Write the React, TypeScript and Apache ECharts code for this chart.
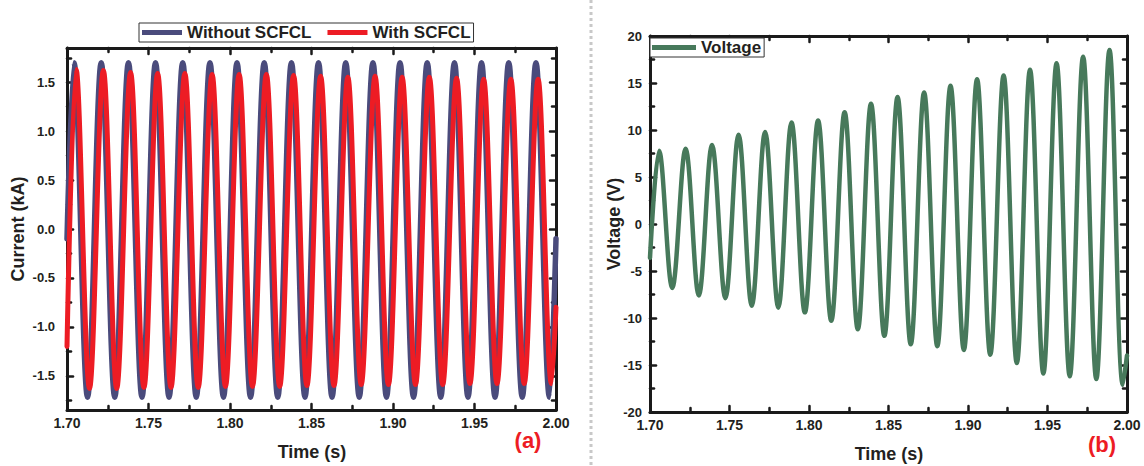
import React, { useEffect, useRef } from "react";
import * as echarts from "echarts";

// ---------- Data ----------
const xTickLabels = ["1.70", "1.75", "1.80", "1.85", "1.90", "1.95", "2.00"];
const currentTickValues = [-1.5, -1.0, -0.5, 0.0, 0.5, 1.0, 1.5];
const currentMinorTicks = [-1.75, -1.25, -0.75, -0.25, 0.25, 0.75, 1.25, 1.75];

// Without SCFCL (blue)
const withoutStart = [1.7, -0.1];
const withoutPeakT = [1.7043, 1.721, 1.7377, 1.7543, 1.771, 1.7877, 1.8043, 1.821, 1.8377, 1.8543, 1.871, 1.8877, 1.9043, 1.921, 1.9377, 1.9543, 1.971, 1.9877];
const withoutPeakV = [1.7, 1.7, 1.7, 1.7, 1.7, 1.7, 1.7, 1.7, 1.7, 1.7, 1.7, 1.7, 1.7, 1.7, 1.7, 1.7, 1.7, 1.7];
const withoutTroughT = [1.7126, 1.7293, 1.746, 1.7626, 1.7793, 1.796, 1.8126, 1.8293, 1.846, 1.8626, 1.8793, 1.896, 1.9126, 1.9293, 1.946, 1.9626, 1.9793, 1.996];
const withoutTroughV = [-1.72, -1.72, -1.72, -1.72, -1.72, -1.72, -1.72, -1.72, -1.72, -1.72, -1.72, -1.72, -1.72, -1.72, -1.72, -1.72, -1.72, -1.72];
const withoutEnd = [2.0, -0.1];

// With SCFCL (red)
const withStart = [1.7, -1.2];
const withPeakT = [1.7056, 1.7223, 1.739, 1.7556, 1.7723, 1.789, 1.8056, 1.8223, 1.839, 1.8556, 1.8723, 1.889, 1.9056, 1.9223, 1.939, 1.9556, 1.9723, 1.989];
const withPeakV = [1.63, 1.62, 1.6, 1.59, 1.59, 1.58, 1.58, 1.58, 1.57, 1.56, 1.55, 1.56, 1.55, 1.55, 1.54, 1.53, 1.53, 1.53];
const withTroughT = [1.7138, 1.7305, 1.7472, 1.7638, 1.7805, 1.7972, 1.8138, 1.8305, 1.8472, 1.8638, 1.8805, 1.8972, 1.9138, 1.9305, 1.9472, 1.9638, 1.9805, 1.9972];
const withTroughV = [-1.63, -1.63, -1.62, -1.62, -1.62, -1.61, -1.61, -1.61, -1.6, -1.6, -1.59, -1.59, -1.59, -1.59, -1.58, -1.58, -1.58, -1.58];
const withEnd = [2.0, -0.8];

// Voltage (green)
const voltStart = [1.7, -3.6];
const voltPeakT = [1.7057, 1.7224, 1.739, 1.7557, 1.7724, 1.789, 1.8057, 1.8224, 1.839, 1.8557, 1.8724, 1.889, 1.9057, 1.9224, 1.939, 1.9557, 1.9724, 1.989];
const voltPeakV = [7.8, 8.0, 8.4, 9.5, 9.8, 10.8, 11.0, 11.9, 12.8, 13.5, 14.0, 14.7, 15.4, 15.8, 16.4, 17.1, 17.8, 18.5];
const voltTroughT = [1.714, 1.7307, 1.7474, 1.764, 1.7807, 1.7974, 1.814, 1.8307, 1.8474, 1.864, 1.8807, 1.8974, 1.914, 1.9307, 1.9474, 1.964, 1.9807, 1.9974];
const voltTroughV = [-6.8, -7.6, -7.9, -8.7, -8.9, -9.4, -10.3, -11.2, -11.9, -12.8, -13.0, -13.4, -13.9, -14.8, -15.9, -16.2, -16.5, -17.1];
const voltEnd = [2.0, -14.0];

// ---------- helpers ----------
function wave(start: number[], pT: number[], pV: number[], tT: number[], tV: number[], end: number[]) {
  const out: number[][] = [start];
  for (let i = 0; i < pT.length; i++) {
    out.push([pT[i], pV[i]]);
    out.push([tT[i], tV[i]]);
  }
  out.push(end);
  return out;
}

const FONT = "'Liberation Sans', Arial, sans-serif";
const INK = "#231F20";
const AXIS = "#1A1A1A";

function xAxes(grid: number) {
  const common = {
    type: "value",
    gridIndex: grid,
    min: 1.7,
    max: 2.0,
    interval: 0.05,
    splitLine: { show: false },
    axisLine: { show: true, onZero: false, lineStyle: { color: AXIS, width: 3 } },
    axisTick: { show: true, inside: true, length: 6, lineStyle: { color: AXIS, width: 2.5, cap: "round" } },
    minorTick: { show: true, splitNumber: 2, length: 4, lineStyle: { color: AXIS, width: 2.5, cap: "round" } },
  };
  return [
    {
      ...common,
      position: "bottom",
      axisLabel: {
        show: true,
        margin: 6,
        fontFamily: FONT,
        fontWeight: "bold",
        fontSize: 14,
        color: INK,
        formatter: (v: number) => {
          const idx = Math.round((v - 1.7) / 0.05);
          return xTickLabels[idx] ?? "";
        },
      },
    },
    { ...common, position: "top", axisLabel: { show: false } },
  ];
}

function App() {
  const ref = useRef<HTMLDivElement>(null);
  useEffect(() => {
    if (!ref.current) return;
    const chart = echarts.init(ref.current, null, { renderer: "svg" });

    const yTickStyle = { color: AXIS, width: 2.5, cap: "round" };
    const yLeftCommon = {
      type: "value",
      gridIndex: 0,
      min: -1.85,
      max: 1.85,
      splitLine: { show: false },
    };

    const option: any = {
      animation: false,
      backgroundColor: "#ffffff",
      grid: [
        { left: 67, right: 588, top: 48, bottom: 56 },
        { left: 650, right: 17, top: 36, bottom: 54 },
      ],
      xAxis: [...xAxes(0), ...xAxes(1)],
      yAxis: [
        {
          ...yLeftCommon,
          position: "left",
          axisLine: { show: true, onZero: false, lineStyle: { color: AXIS, width: 3 } },
          axisTick: { show: true, inside: true, length: 6, customValues: currentTickValues, lineStyle: yTickStyle },
          axisLabel: {
            show: true,
            margin: 12,
            customValues: currentTickValues,
            fontFamily: FONT,
            fontWeight: "bold",
            fontSize: 13,
            color: INK,
            formatter: (v: number) => v.toFixed(1),
          },
        },
        {
          ...yLeftCommon,
          position: "right",
          axisLine: { show: true, onZero: false, lineStyle: { color: AXIS, width: 3 } },
          axisTick: { show: true, inside: true, length: 6, customValues: currentTickValues, lineStyle: yTickStyle },
          axisLabel: { show: false },
        },
        {
          ...yLeftCommon,
          position: "left",
          axisLine: { show: false },
          axisTick: { show: true, inside: true, length: 4, customValues: currentMinorTicks, lineStyle: yTickStyle },
          axisLabel: { show: false },
        },
        {
          ...yLeftCommon,
          position: "right",
          axisLine: { show: false },
          axisTick: { show: true, inside: true, length: 4, customValues: currentMinorTicks, lineStyle: yTickStyle },
          axisLabel: { show: false },
        },
        {
          type: "value",
          gridIndex: 1,
          position: "left",
          min: -20,
          max: 20,
          interval: 5,
          splitLine: { show: false },
          axisLine: { show: true, onZero: false, lineStyle: { color: AXIS, width: 3 } },
          axisTick: { show: true, inside: true, length: 6, lineStyle: yTickStyle },
          minorTick: { show: true, splitNumber: 2, length: 4, lineStyle: yTickStyle },
          axisLabel: { show: true, margin: 8, fontFamily: FONT, fontWeight: "bold", fontSize: 13, color: INK },
        },
        {
          type: "value",
          gridIndex: 1,
          position: "right",
          min: -20,
          max: 20,
          interval: 5,
          splitLine: { show: false },
          axisLine: { show: true, onZero: false, lineStyle: { color: AXIS, width: 3 } },
          axisTick: { show: true, inside: true, length: 6, lineStyle: yTickStyle },
          minorTick: { show: true, splitNumber: 2, length: 4, lineStyle: yTickStyle },
          axisLabel: { show: false },
        },
      ],
      legend: [
        {
          data: ["Without SCFCL", "With SCFCL"],
          left: 139,
          top: 23,
          orient: "horizontal",
          icon: "rect",
          itemWidth: 40,
          itemHeight: 5,
          itemGap: 16,
          padding: [1, 3, 1, 3],
          borderColor: "#333",
          borderWidth: 1,
          borderRadius: 0,
          backgroundColor: "#fff",
          textStyle: { fontFamily: FONT, fontWeight: "bold", fontSize: 17, color: INK },
        },
        {
          data: ["Voltage"],
          left: 650,
          top: 38,
          icon: "rect",
          itemWidth: 44,
          itemHeight: 5,
          padding: [1, 3, 1, 2],
          borderColor: "#333",
          borderWidth: 1,
          borderRadius: 0,
          backgroundColor: "#fff",
          textStyle: { fontFamily: FONT, fontWeight: "bold", fontSize: 17, color: INK },
        },
      ],
      series: [
        {
          name: "Without SCFCL",
          type: "line",
          xAxisIndex: 0,
          yAxisIndex: 0,
          data: wave(withoutStart, withoutPeakT, withoutPeakV, withoutTroughT, withoutTroughV, withoutEnd),
          smooth: 0.36,
          showSymbol: false,
          symbol: "none",
          color: "#4A4B7C",
          lineStyle: { width: 5.5, color: "#4A4B7C", cap: "round", join: "round" },
        },
        {
          name: "With SCFCL",
          type: "line",
          xAxisIndex: 0,
          yAxisIndex: 0,
          data: wave(withStart, withPeakT, withPeakV, withTroughT, withTroughV, withEnd),
          smooth: 0.36,
          showSymbol: false,
          symbol: "none",
          color: "#ED1C24",
          lineStyle: { width: 5, color: "#ED1C24", cap: "round", join: "round" },
        },
        {
          name: "Voltage",
          type: "line",
          xAxisIndex: 2,
          yAxisIndex: 4,
          data: wave(voltStart, voltPeakT, voltPeakV, voltTroughT, voltTroughV, voltEnd),
          smooth: 0.36,
          showSymbol: false,
          symbol: "none",
          color: "#47795B",
          lineStyle: { width: 4.5, color: "#47795B", cap: "round", join: "round" },
        },
      ],
      graphic: [
        {
          type: "line",
          shape: { x1: 591, y1: 0, x2: 591, y2: 466 },
          style: { stroke: "#C8C8C8", lineWidth: 3, lineDash: [3, 3] },
        },
        {
          type: "text",
          x: 18,
          y: 229,
          rotation: Math.PI / 2,
          style: { text: "Current (kA)", fontFamily: FONT, fontWeight: "bold", fontSize: 18, fill: INK, align: "center", verticalAlign: "middle" },
        },
        {
          type: "text",
          x: 312,
          y: 452,
          style: { text: "Time (s)", fontFamily: FONT, fontWeight: "bold", fontSize: 18, fill: INK, align: "center", verticalAlign: "middle" },
        },
        {
          type: "text",
          x: 614,
          y: 224,
          rotation: Math.PI / 2,
          style: { text: "Voltage (V)", fontFamily: FONT, fontWeight: "bold", fontSize: 18, fill: INK, align: "center", verticalAlign: "middle" },
        },
        {
          type: "text",
          x: 889,
          y: 454,
          style: { text: "Time (s)", fontFamily: FONT, fontWeight: "bold", fontSize: 18, fill: INK, align: "center", verticalAlign: "middle" },
        },
        {
          type: "text",
          x: 528,
          y: 440,
          style: { text: "(a)", fontFamily: FONT, fontWeight: "bold", fontSize: 22, fill: "#ED1C24", align: "center", verticalAlign: "middle" },
        },
        {
          type: "text",
          x: 1102,
          y: 444,
          style: { text: "(b)", fontFamily: FONT, fontWeight: "bold", fontSize: 22, fill: "#ED1C24", align: "center", verticalAlign: "middle" },
        },
      ],
    };
    chart.setOption(option);
    return () => chart.dispose();
  }, []);

  return (
    <div
      ref={ref}
      style={{ position: "fixed", left: 0, top: 0, width: 1144, height: 466, background: "#fff" }}
    />
  );
}

export default App;
